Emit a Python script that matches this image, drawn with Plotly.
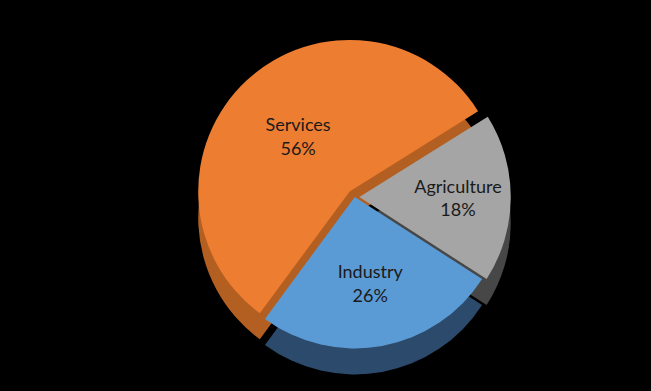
import plotly.graph_objects as go

labels = ["Agriculture", "Industry", "Services"]
values = [18, 26, 56]
top_colors = ["#A5A5A5", "#5B9BD5", "#ED7D31"]
side_colors = ["#474747", "#2C4A6B", "#B35F22"]
pulls = [0.03, 0.0, 0.05]

W, H = 651, 391
cx = 0.545
top_px, size_px, depth_px = 38, 318, 26

def dom(offset):
    y1 = (H - (top_px + offset)) / H
    y0 = (H - (top_px + offset + size_px)) / H
    half = size_px / W / 2
    return dict(x=[cx - half, cx + half], y=[max(y0, 0), min(y1, 1)])

fig = go.Figure()
# side / depth layer
fig.add_trace(go.Pie(
    labels=labels, values=values, sort=False, direction="clockwise", rotation=58,
    pull=pulls, marker=dict(colors=side_colors, line=dict(width=0)),
    textinfo="none", hoverinfo="skip", domain=dom(depth_px), showlegend=False,
))
# top face
fig.add_trace(go.Pie(
    labels=labels, values=values, sort=False, direction="clockwise", rotation=58,
    pull=pulls, marker=dict(colors=top_colors, line=dict(width=0)),
    textinfo="label+percent", textposition="inside", insidetextorientation="horizontal",
    texttemplate="%{label}<br>%{percent:.0%}",
    textfont=dict(family="Lato, Open Sans, sans-serif", size=18, color="#1a1a1a"),
    domain=dom(0), showlegend=False,
))

fig.update_layout(
    width=W, height=H,
    paper_bgcolor="black", plot_bgcolor="black",
    margin=dict(l=0, r=0, t=0, b=0),
    showlegend=False,
    uniformtext=dict(minsize=18, mode="show"),
)

fig.write_html(
    "out.html",
    config={"displayModeBar": False},
    post_script="document.body.style.margin='0';document.body.style.background='black';",
)
